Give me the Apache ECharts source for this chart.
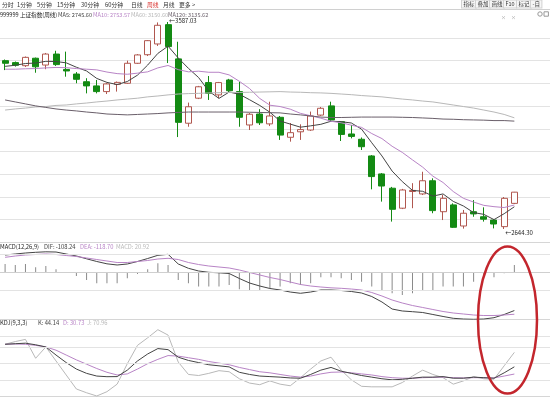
<!DOCTYPE html>
<html>
<head>
<meta charset="UTF-8">
<title>上证指数 周线</title>
<script src="https://cdn.jsdelivr.net/npm/echarts@6/dist/echarts.min.js"></script>
<style>
html, body { margin: 0; padding: 0; background: #fff; }
#main { width: 550px; height: 398px; }
</style>
</head>
<body>
<div id="main"></div>
<script type="text/javascript">
// 周K数据 (开, 收, 低, 高)
var weeks = [];
for (var w = 1; w <= 54; w++) weeks.push('W' + w);

var openP = [3411,3402,3388,3422,3391,3441,3371,3350,3315,3296,3270,3303,3308,3399,3438,3487,3575,3419,3126,3240,3311,3255,3323,3270,3118,3168,3123,3153,3062,3087,3095,3163,3205,3133,3077,3053,2977,2895,2830,2739,2815,2804,2864,2723,2754,2658,2723,2700,2685,2655,2761];
var closeP = [3399,3390,3426,3383,3441,3393,3364,3326,3296,3270,3305,3312,3399,3437,3502,3572,3475,3130,3201,3292,3262,3311,3274,3153,3167,3128,3159,3072,3083,3097,3159,3194,3141,3075,3066,3019,2883,2840,2734,2822,2820,2864,2728,2784,2652,2716,2713,2689,2667,2784,2812];
var lowP = [3368,3384,3382,3356,3372,3387,3338,3308,3262,3262,3259,3270,3305,3396,3432,3478,3400,3063,3110,3236,3232,3240,3268,3110,3095,3118,3113,3050,3042,3050,3091,3159,3136,3045,3057,3004,2825,2769,2678,2735,2739,2799,2716,2685,2649,2646,2700,2678,2647,2644.30,2758];
var highP = [3416,3407,3430,3425,3446,3456,3452,3359,3331,3323,3309,3316,3411,3441,3505,3585,3587.03,3497,3220,3296,3341,3314,3328,3315,3173,3190,3224,3159,3127,3121,3179,3200,3224,3136,3118,3061,2981,2899,2836,2827,2853,2905,2875,2799,2761,2731,2776,2743,2690,2790,2813];

// 均线
var ma5 = [3385,3390,3398,3400,3408,3407,3401,3381,3364,3330,3312,3302,3316,3345,3391,3444,3477,3423,3376,3334,3272,3239,3268,3258,3233,3207,3176,3136,3122,3108,3114,3121,3135,3133,3127,3099,3037,2977,2908,2860,2820,2816,2794,2804,2770,2749,2719,2711,2687,2714,2745.60];
var ma10 = [3372,3372,3374,3375,3378,3380,3379,3375,3372,3369,3359,3352,3349,3354,3360,3378,3389,3370,3360,3363,3358,3358,3346,3317,3284,3239,3208,3202,3190,3171,3160,3149,3135,3128,3117,3107,3079,3056,3021,2993,2959,2926,2885,2856,2815,2784,2767,2752,2746,2742,2753.57];
var ma60 = [3186,3191,3195,3200,3202,3207,3209,3214,3218,3223,3227,3232,3236,3240,3246,3250,3255,3259,3261,3262,3264,3265,3266,3266,3267,3268,3269,3270,3268,3267,3265,3264,3262,3259,3256,3252,3249,3246,3241,3236,3232,3227,3223,3216,3209,3202,3195,3186,3177,3166,3150.60];
var ma120 = [3232,3223,3214,3205,3198,3191,3186,3182,3177,3173,3168,3166,3164,3166,3168,3170,3173,3175,3177,3177,3177,3177,3177,3177,3176,3175,3174,3173,3168,3164,3159,3154,3152,3152,3153,3154,3154,3154,3154,3153,3152,3150,3148,3145,3144,3142,3141,3140,3138,3138,3135.62];

// MACD
var macdBar = [23.5,20.7,23.5,14,18,8.5,-1,-10.5,-21.8,-31,-31,-31,-17,-4.8,8.5,25.5,20.7,-21.8,-31,-40.5,-40.5,-40.5,-36,-48,-50,-50,-45,-40.5,-31,-36,-31,-14,-14,-17,-21.8,-26.4,-40.5,-50,-59.4,-64,-59.4,-50,-50,-40.5,-40.5,-40.5,-26.4,-14,-14,-3,20.92];
var dif = [48.9,51.8,54.6,56.6,58,57.4,51.8,46.1,38.2,30.6,24,20.7,23.5,30.6,39,48.1,50.9,23.5,11.3,3.7,0,-1.4,-3.4,-17.5,-30.3,-38.8,-45.8,-50,-55.8,-59.4,-55.8,-50,-50,-51.5,-54.3,-58.6,-68.5,-84,-103.9,-109.5,-111.5,-113.8,-119.4,-125,-130.2,-132.2,-133,-132.2,-128.5,-119.4,-108.24];
var dea = [42.4,46.1,49,50.4,51.8,50.4,47.5,44.7,40.5,36.2,32,27.7,27.7,30.6,33.4,37.6,39.6,36.2,27.7,22,17.8,15,12.2,6.5,-0.6,-7.6,-14.7,-20.4,-27.5,-34.5,-38.8,-41.6,-43.9,-45.3,-47.3,-50.1,-57.2,-67.1,-78.4,-86.9,-94,-99.6,-105.3,-110.9,-115.2,-118,-120.8,-122.3,-122.3,-120.8,-118.70];

// KDJ
var kLine = [86,87,88,85,81,66,52,40,32,27,25.8,26,38,55,68,78,76,62,56,52,48,46,44,34,30,27,26,25,23.5,23,30,38,43,36,32,28,25,22,20,21,23,25,25,26,23,23,25,24,23,33,44.14];
var dLine = [86,86.5,86,84,81,75,66,57,49,41,34,29,31,40,50,58,65,64,61,58,54,51,48,43,39,35,33,30,27,25,27,31,34,34.5,33,31,29,26,24,23,23,24,24.5,25,24,23.5,24,24,23.5,27,30.73];
var jLine = [86,91,95,60,81,55,29,3,-4,-10,-2,12,50,84,98,113,103,53,30,28,32,37,35,22,14,11,18,12,9,24,40,55,62,38,20,8,7,7,7,15,27,38,30,24,12,18,26,22,21,46,70.96];

var kdata = [];
for (var i = 0; i < openP.length; i++) {
    kdata.push([openP[i], closeP[i], lowP[i], highP[i]]);
}
function last(a) { return a[a.length - 1].toFixed(2); }

var FONT = '"Noto Sans CJK SC", sans-serif';
var C_DARK = '#444444', C_PURPLE = '#b884c6', C_LIGHT = '#b8b8b8', C_MA120 = '#6a5f6a';
var GRIDLINE = '#e3e3e3';

function txt(x, y, s, color, size) {
    return {type: 'text', x: x, y: y, style: {text: s, fill: color || '#333', font: (size || 5.8) + 'px ' + FONT, textVerticalAlign: 'middle'}};
}
function btn(x, s) {
    return {type: 'text', x: x, y: 0.5, style: {text: s, fill: '#333', font: '5.5px ' + FONT,
        borderColor: '#d2d2d2', borderWidth: 1, padding: [1, 1.5, 0.5, 1.5], backgroundColor: '#f6f6f6'}};
}

var myChart = echarts.init(document.getElementById('main'));

var option = {
    animation: false,
    backgroundColor: '#fff',
    grid: [
        {left: -2, right: 0, top: 15.3, height: 227},
        {left: -2, right: 0, top: 38, height: 204.3},
        {left: -2, right: 0, top: 242.3, height: 77},
        {left: -2, right: 0, top: 320, height: 76.7}
    ],
    xAxis: [0, 1, 2, 3].map(function (g) {
        return {
            type: 'category', gridIndex: g, data: weeks, boundaryGap: true,
            axisLabel: {show: false}, axisTick: {show: false}, splitLine: {show: false},
            axisLine: {show: g !== 1, onZero: false, lineStyle: {color: '#d6d6d6'}}
        };
    }),
    yAxis: [
        {gridIndex: 0, min: 2583.7, max: 3617.5, show: false},
        {gridIndex: 1, min: 0, max: 9, interval: 1, axisLabel: {show: false}, axisLine: {show: false},
            axisTick: {show: false}, splitLine: {lineStyle: {color: GRIDLINE}}},
        {gridIndex: 2, min: -133, max: 84.9, show: false},
        {gridIndex: 3, min: -11.3, max: 131, show: false}
    ],
    series: [
        {
            name: '周K', type: 'candlestick', xAxisIndex: 0, yAxisIndex: 0, data: kdata, barWidth: 6.5,
            itemStyle: {color: '#ffffff', color0: '#138a13', borderColor: '#b0574f', borderColor0: '#138a13', borderWidth: 1},
            markPoint: {
                symbol: 'circle', symbolSize: 0,
                label: {show: true, position: 'right', distance: 1, color: '#222', fontSize: 6, fontFamily: FONT,
                    formatter: function (p) { return '←' + Number(p.value).toFixed(2); }},
                data: [
                    {type: 'max', valueDim: 'highest', label: {offset: [0, -1]}},
                    {type: 'min', valueDim: 'lowest', label: {offset: [0, 4]}}
                ]
            }
        },
        {name: 'MA5', type: 'line', xAxisIndex: 0, yAxisIndex: 0, data: ma5, showSymbol: false, lineStyle: {width: 1, color: C_DARK}, z: 3},
        {name: 'MA10', type: 'line', xAxisIndex: 0, yAxisIndex: 0, data: ma10, showSymbol: false, lineStyle: {width: 1, color: C_PURPLE}, z: 3},
        {name: 'MA60', type: 'line', xAxisIndex: 0, yAxisIndex: 0, data: ma60, showSymbol: false, lineStyle: {width: 1, color: C_LIGHT}, z: 3},
        {name: 'MA120', type: 'line', xAxisIndex: 0, yAxisIndex: 0, data: ma120, showSymbol: false, lineStyle: {width: 1, color: C_MA120}, z: 3},
        {
            name: 'MACD', type: 'bar', xAxisIndex: 2, yAxisIndex: 2, data: macdBar, barWidth: 1,
            itemStyle: {color: '#8a8a8a'},
            markLine: {silent: true, symbol: 'none', label: {show: false},
                lineStyle: {type: 'solid', width: 1, color: GRIDLINE},
                data: [{yAxis: 50}, {yAxis: 0, lineStyle: {color: '#cfcfcf'}}, {yAxis: -50}]}
        },
        {name: 'DIF', type: 'line', xAxisIndex: 2, yAxisIndex: 2, data: dif, showSymbol: false, lineStyle: {width: 1, color: C_DARK}},
        {name: 'DEA', type: 'line', xAxisIndex: 2, yAxisIndex: 2, data: dea, showSymbol: false, lineStyle: {width: 1, color: C_PURPLE}},
        {
            name: 'K', type: 'line', xAxisIndex: 3, yAxisIndex: 3, data: kLine, showSymbol: false, lineStyle: {width: 1, color: C_DARK}, z: 4,
            markLine: {silent: true, symbol: 'none', label: {show: false},
                lineStyle: {type: 'solid', width: 1, color: GRIDLINE},
                data: [{yAxis: 100}, {yAxis: 80}, {yAxis: 50}, {yAxis: 20}]}
        },
        {name: 'D', type: 'line', xAxisIndex: 3, yAxisIndex: 3, data: dLine, showSymbol: false, lineStyle: {width: 1, color: C_PURPLE}, z: 3},
        {name: 'J', type: 'line', xAxisIndex: 3, yAxisIndex: 3, data: jLine, showSymbol: false, lineStyle: {width: 1, color: C_LIGHT}, z: 2}
    ],
    graphic: [
        {type: 'line', shape: {x1: 0, y1: 9.5, x2: 550, y2: 9.5}, style: {stroke: '#d0d0d0', lineWidth: 1}},
        txt(2, 5, '分时'), txt(17, 5, '1分钟'), txt(37, 5, '5分钟'), txt(57, 5, '15分钟'),
        txt(81, 5, '30分钟'), txt(105, 5, '60分钟'), txt(131, 5, '日线'), txt(147, 5, '周线', '#d9302c'),
        txt(163, 5, '月线'), txt(179, 5, '更多 >'),
        btn(462, '指标'), btn(476, '叠加'), btn(490, '画线'), btn(504, 'F10'), btn(517, '标记'), btn(531, '-自'),
        txt(0, 14.5, '999999 上证指数(周线)', '#222', 5.6),
        txt(58, 14.5, 'MA5: ' + last(ma5), C_DARK, 5.6),
        txt(93, 14.5, 'MA10: ' + last(ma10), C_PURPLE, 5.6),
        txt(131, 14.5, 'MA60: ' + last(ma60), C_LIGHT, 5.6),
        txt(168, 14.5, 'MA120: ' + last(ma120), C_MA120, 5.6),
        {type: 'circle', shape: {cx: 540, cy: 14, r: 2.2}, style: {fill: 'none', stroke: '#999'}},
        {type: 'rect', shape: {x: 544, y: 11.8, width: 4.4, height: 4.4}, style: {fill: 'none', stroke: '#999'}},
        txt(501, 17, '×', '#999', 5), txt(511, 17, '×', '#999', 5),
        txt(0, 246.5, 'MACD(12,26,9)', '#222', 5.8),
        txt(44, 246.5, 'DIF: ' + last(dif), C_DARK, 5.8),
        txt(80, 246.5, 'DEA: ' + last(dea), C_PURPLE, 5.8),
        txt(116, 246.5, 'MACD: ' + last(macdBar), C_LIGHT, 5.8),
        txt(0, 322.5, 'KDJ(9,3,3)', '#222', 5.8),
        txt(38, 322.5, 'K: ' + last(kLine), C_DARK, 5.8),
        txt(63, 322.5, 'D: ' + last(dLine), C_PURPLE, 5.8),
        txt(87, 322.5, 'J: ' + last(jLine), C_LIGHT, 5.8),
        {type: 'ellipse', z: 100, shape: {cx: 507.5, cy: 320, rx: 29.5, ry: 73.5},
            style: {fill: 'none', stroke: '#c3262d', lineWidth: 2.5}}
    ]
};
myChart.setOption(option);
</script>
</body>
</html>
